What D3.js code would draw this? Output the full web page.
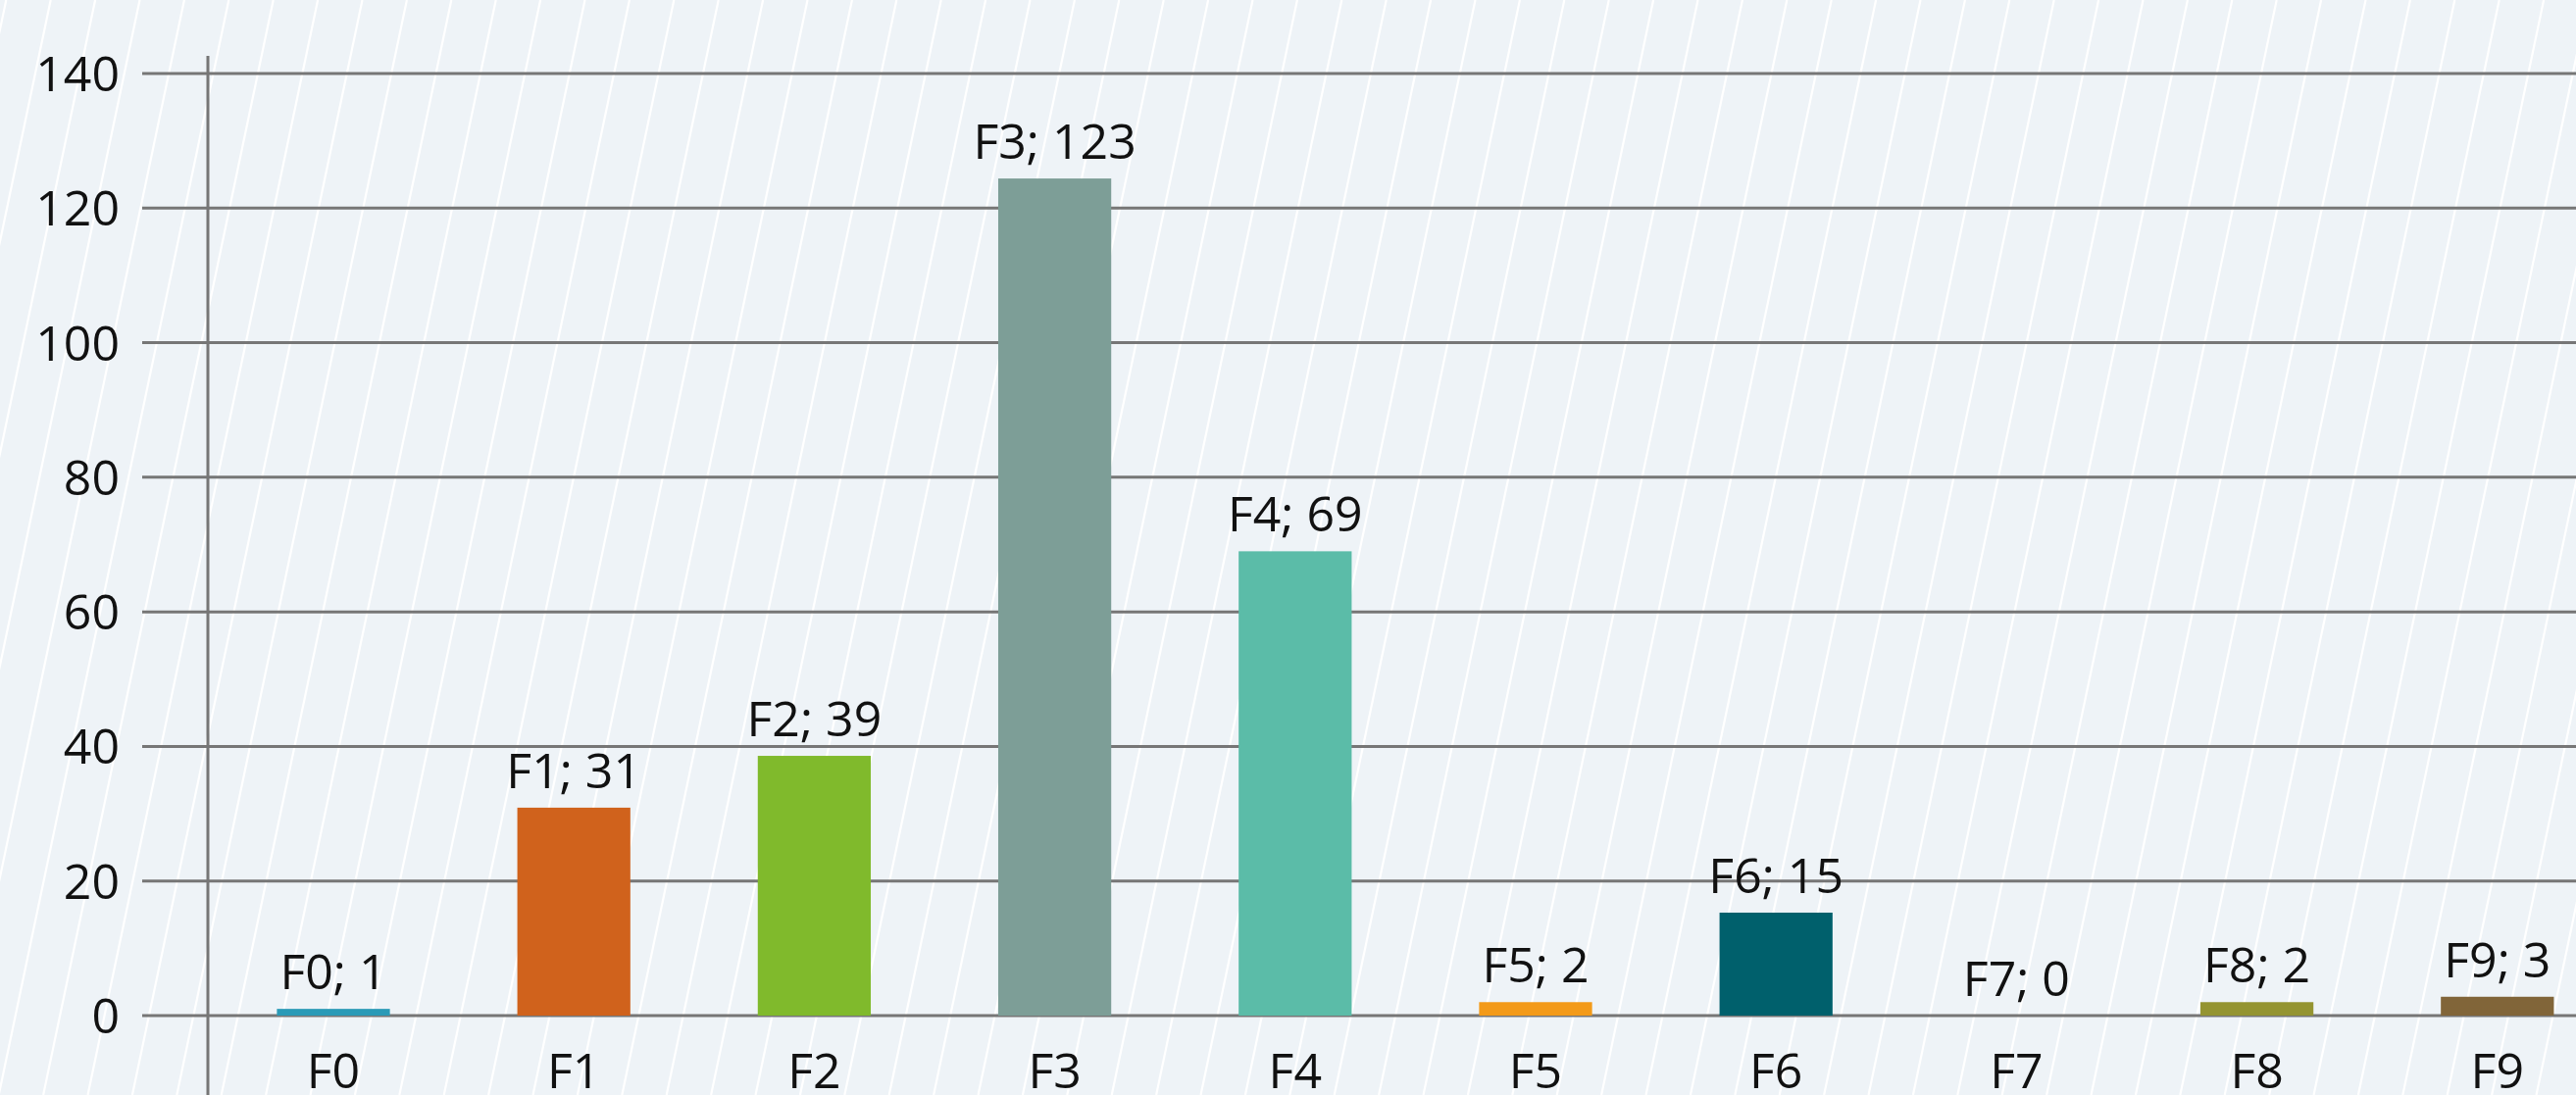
<!DOCTYPE html>
<html>
<head>
<meta charset="utf-8">
<script src="https://cdn.jsdelivr.net/npm/d3@7"></script>
<style>
    html, body { margin: 0; padding: 0; background: #eef3f7; overflow: hidden; }
    #chart text { font-family: "Open Sans", sans-serif; fill: #111; }
</style>
</head>
<body>
<div id="chart"></div>
<script>
const categories = ['F0', 'F1', 'F2', 'F3', 'F4', 'F5', 'F6', 'F7', 'F8', 'F9'];
// bar heights
const values = [1, 30.9, 38.6, 124.4, 69, 2, 15.3, 0, 2, 2.8];
// value shown in each bar label
const valueLabels = [1, 31, 39, 123, 69, 2, 15, 0, 2, 3];
const barColors = ['#2a9ab7', '#d0621c', '#80ba2c', '#7d9e97', '#5bbca8', '#f39a19', '#00606c', '#999999', '#949431', '#816539'];
const yTicks = [0, 20, 40, 60, 80, 100, 120, 140];

function createChart() {
    const width = 2627;
    const height = 1117;

    const svg = d3.select('#chart').append('svg')
        .attr('width', width)
        .attr('height', height);

    // background with white diagonal hatching
    svg.append('rect')
        .attr('width', width)
        .attr('height', height)
        .attr('fill', '#eef3f7');

    const hatchStep = 45.4;
    const hatchSlope = 0.21;
    svg.append('g')
        .selectAll('line')
        .data(d3.range(-2, Math.ceil((width + hatchSlope * height) / hatchStep) + 2))
        .join('line')
        .attr('x1', k => 6.3 + k * hatchStep)
        .attr('y1', 0)
        .attr('x2', k => 6.3 + k * hatchStep - hatchSlope * height)
        .attr('y2', height)
        .attr('stroke', '#ffffff')
        .attr('stroke-width', 2.2);

    const x = d3.scaleBand()
        .domain(categories)
        .range([217.4, 217.4 + 245.2 * categories.length])
        .paddingInner(0.53)
        .paddingOuter(0.265);

    const y = d3.scaleLinear()
        .domain([0, 140])
        .range([1036, 75]);

    // gridlines
    svg.append('g')
        .selectAll('line')
        .data(yTicks)
        .join('line')
        .attr('x1', 145)
        .attr('x2', width)
        .attr('y1', d => y(d))
        .attr('y2', d => y(d))
        .attr('stroke', '#767676')
        .attr('stroke-width', 3);

    // y axis labels
    svg.append('g')
        .selectAll('text')
        .data(yTicks)
        .join('text')
        .attr('x', 122)
        .attr('y', d => y(d))
        .attr('dy', '0.36em')
        .attr('text-anchor', 'end')
        .style('font-size', '50px')
        .text(d => d);

    // vertical axis line
    svg.append('line')
        .attr('x1', 212)
        .attr('x2', 212)
        .attr('y1', 57)
        .attr('y2', height)
        .attr('stroke', '#767676')
        .attr('stroke-width', 3);

    // bars
    svg.append('g')
        .selectAll('rect')
        .data(categories)
        .join('rect')
        .attr('x', d => x(d))
        .attr('width', x.bandwidth())
        .attr('y', (d, i) => y(values[i]))
        .attr('height', (d, i) => y(0) - y(values[i]))
        .attr('fill', (d, i) => barColors[i]);

    // value labels
    svg.append('g')
        .selectAll('text')
        .data(categories)
        .join('text')
        .attr('x', d => x(d) + x.bandwidth() / 2)
        .attr('y', (d, i) => y(values[i]) - 20)
        .attr('text-anchor', 'middle')
        .style('font-size', '50px')
        .text((d, i) => `${d}; ${valueLabels[i]}`);

    // category labels
    svg.append('g')
        .selectAll('text')
        .data(categories)
        .join('text')
        .attr('x', d => x(d) + x.bandwidth() / 2)
        .attr('y', 1110)
        .attr('text-anchor', 'middle')
        .style('font-size', '50px')
        .text(d => d);
}

createChart();
</script>
</body>
</html>
